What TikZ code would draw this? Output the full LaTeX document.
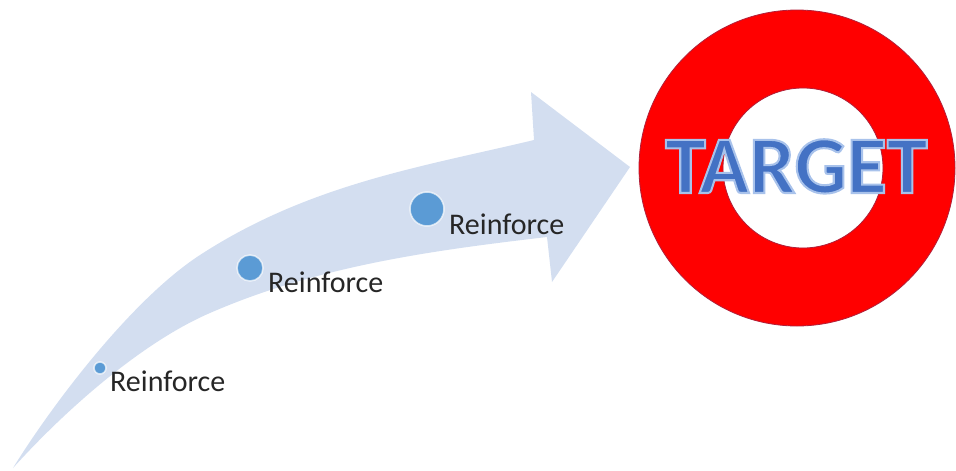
\documentclass[tikz,border=0pt]{standalone}
\usepackage{fontspec}
\setmainfont{Carlito}
\newfontfamily\tgtfont[FakeBold=2.5]{Carlito Bold}
\definecolor{arrowfill}{HTML}{D3DEF0}
\definecolor{dotblue}{HTML}{5B9BD5}
\definecolor{tgtblue}{HTML}{4472C4}
\definecolor{ringred}{HTML}{FF0000}
\definecolor{ringedge}{HTML}{B0203A}
\begin{document}
\begin{tikzpicture}[x=1pt,y=-1pt,
  lbl/.style={anchor=base west, inner sep=0pt, text=black!85, font=\fontsize{30}{30}\selectfont},
  dotmark/.style={fill=dotblue, draw=white, draw opacity=0.7, line width=1.5pt}]
\useasboundingbox (0,0) rectangle (956,471);
% curved arrow
\fill[arrowfill] (13,468) .. controls (50,408) and (130,300.5) .. (200,255)
  .. controls (310,183.5) and (424,166.4) .. (534,140)
  -- (531,92) -- (630,167) -- (552,282) -- (547,237)
  .. controls (437,250) and (320,265) .. (210,313)
  .. controls (145,341) and (70,405) .. (13,468) -- cycle;
% target ring
\fill[ringred, even odd rule] (797,168) circle[radius=158pt] (803,168) circle[radius=80pt];
\draw[ringedge, line width=0.8pt] (797,168) circle[radius=158pt];
\draw[ringedge, line width=0.8pt] (803,168) circle[radius=80pt];
% dots
\path[dotmark] (100,368) circle[radius=6pt];
\path[dotmark] (250,268) circle[radius=13pt];
\path[dotmark] (427,209) circle[radius=17pt];
% labels
\node[lbl] (r1) at (110,391) {Reinforce};
\node[lbl] (r2) at (268,292) {Reinforce};
\node[lbl] (r3) at (449,234) {Reinforce};
\node[anchor=base west, inner sep=0pt, text=tgtblue, font=\tgtfont\fontsize{82}{82}\selectfont] (tgt) at (665,193) {\special{pdf:code 0.66 0.76 0.92 RG}TARGET};
\end{tikzpicture}
\end{document}
